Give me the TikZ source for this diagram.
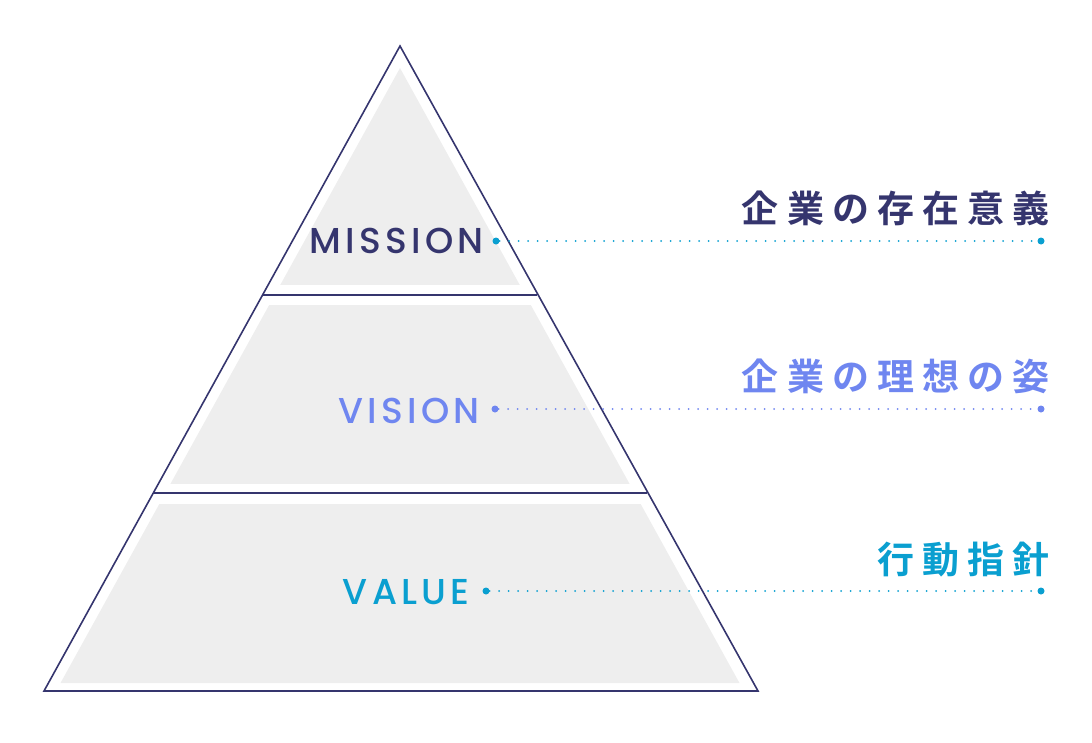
\documentclass[tikz,border=0pt]{standalone}
\usepackage{fontspec}
\newfontfamily\lat[LetterSpace=12]{Poppins Medium}
\newfontfamily\cjk[LetterSpace=22]{Noto Sans CJK JP Bold}
\definecolor{navy}{HTML}{35356E}
\definecolor{lav}{HTML}{6F86F0}
\definecolor{cy}{HTML}{0A9FD0}
\definecolor{gr}{HTML}{EEEEEE}
\begin{document}
\begin{tikzpicture}[x=1pt,y=-1pt,
  lab/.style={font=\lat\fontsize{36}{36}\selectfont,anchor=east,inner sep=0},
  jp/.style={font=\cjk\fontsize{37}{37}\selectfont,anchor=south east,inner sep=0},
  dotl/.style={line width=2pt,dash pattern=on 0pt off 9.5pt,line cap=round},
  enddot/.style={circle,inner sep=0,minimum size=7pt}]
\useasboundingbox (0,0) rectangle (1092,742);
\fill[gr] (400,68) -- (739.5,683) -- (60.5,683) -- cycle;
\fill[white] (0,285) rectangle (1092,305);
\fill[white] (0,484) rectangle (1092,504);
\draw[navy,line width=1.6pt,line join=miter] (400,46) -- (758,691) -- (44,691) -- cycle;
\draw[navy,line width=1.6pt] (262.6,295) -- (537.4,295);
\draw[navy,line width=1.6pt] (153.3,493) -- (646.7,493);
\node[lab,text=navy] (m) at (484,241) {MISSION};
\node[lab,text=lav] (v) at (480,411) {VISION};
\node[lab,text=cy] (a) at (470,592) {VALUE};
\node[enddot,fill=cy] (m1) at (496,241) {};
\node[enddot,fill=cy] (m2) at (1041,241) {};
\node[enddot,fill=lav] (v1) at (495,409) {};
\node[enddot,fill=lav] (v2) at (1041,409) {};
\node[enddot,fill=cy] (a1) at (486,591) {};
\node[enddot,fill=cy] (a2) at (1041,591) {};
\draw[dotl,cy] (m1) -- (m2);
\draw[dotl,lav] (v1) -- (v2);
\draw[dotl,cy] (a1) -- (a2);
\node[jp,text=navy] (mj) at (1050,226) {企業の存在意義};
\node[jp,text=lav] (vj) at (1050,394) {企業の理想の姿};
\node[jp,text=cy] (aj) at (1050,577) {行動指針};
\end{tikzpicture}
\end{document}
